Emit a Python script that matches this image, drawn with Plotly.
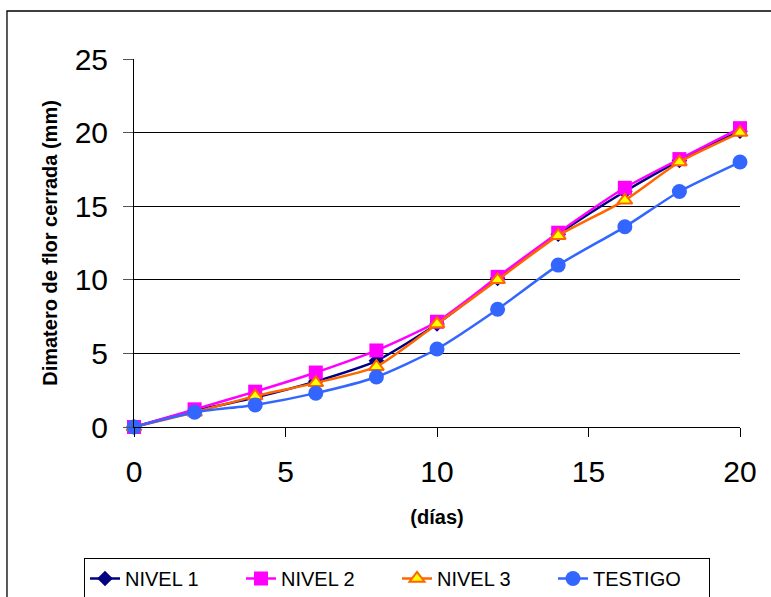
import plotly.graph_objects as go

# Days of measurement
dias = [0, 2, 4, 6, 8, 10, 12, 14, 16.2, 18, 20]

# Closed-flower diameter (mm) per treatment
nivel_1 = [0, 1.1, 2.0, 3.1, 4.5, 7.0, 10.1, 13.1, 16.0, 18.1, 20.1]
nivel_2 = [0, 1.2, 2.4, 3.7, 5.2, 7.15, 10.2, 13.2, 16.25, 18.2, 20.3]
nivel_3 = [0, 1.0, 2.1, 3.0, 4.1, 7.0, 10.0, 13.0, 15.4, 18.0, 20.0]
testigo = [0, 1.0, 1.5, 2.3, 3.4, 5.3, 8.0, 11.0, 13.6, 16.0, 18.0]

y_ticks = [0, 5, 10, 15, 20, 25]
x_ticks = [0, 5, 10, 15, 20]

FONT = "Liberation Sans, Arial, sans-serif"

series = [
    ("NIVEL 1", nivel_1, dict(color="#000080", width=2.5),
     dict(symbol="diamond", size=12, color="#000080")),
    ("NIVEL 2", nivel_2, dict(color="#FF00FF", width=2.5),
     dict(symbol="square", size=14, color="#FF00FF")),
    ("NIVEL 3", nivel_3, dict(color="#FF6600", width=2.5),
     dict(symbol="triangle-up", size=13, color="#FFFF00",
          line=dict(color="#FF6600", width=2))),
    ("TESTIGO", testigo, dict(color="#3366FF", width=2.5),
     dict(symbol="circle", size=15, color="#3366FF")),
]

fig = go.Figure()
for name, vals, line, marker in series:
    fig.add_trace(go.Scatter(
        x=dias, y=vals, name=name, mode="lines+markers",
        line=dict(shape="spline", smoothing=0.6, **line),
        marker=marker, cliponaxis=False,
    ))

fig.update_layout(
    width=771, height=597,
    margin=dict(l=134, r=31, t=59, b=170, autoexpand=False),
    paper_bgcolor="white", plot_bgcolor="white",
    font=dict(family=FONT, color="black"),
    showlegend=True,
    legend=dict(
        orientation="h", xref="paper", x=(84 - 134) / 606, xanchor="left",
        yref="paper", y=(427 - 558) / 368, yanchor="top",
        bordercolor="black", borderwidth=1,
        font=dict(size=20, family=FONT),
        entrywidth=111, tracegroupgap=0, itemwidth=30,
    ),
    shapes=[dict(
        type="rect", xref="paper", yref="paper",
        x0=-0.2096, x1=1.3, y0=-1.0, y1=1.1304,
        line=dict(color="black", width=1.3), layer="below",
    )],
)

fig.update_xaxes(
    range=[0, 20], tickvals=x_ticks, ticks="outside", ticklen=9,
    tickcolor="black", showline=True, linecolor="black", linewidth=1,
    showgrid=False, zeroline=False, automargin=False,
    tickfont=dict(size=30, family=FONT), ticklabelstandoff=9,
    title=dict(text="<b>(días)</b>", font=dict(size=20, family=FONT), standoff=22),
)
fig.update_yaxes(
    range=[0, 25], tickvals=y_ticks, ticks="outside", ticklen=10,
    tickcolor="#555555", showline=True, linecolor="black", linewidth=1,
    showgrid=True, gridcolor="black", gridwidth=1, zeroline=False,
    automargin=False,
    tickfont=dict(size=30, family=FONT), ticklabelstandoff=9,
    title=dict(text="<b>Dimatero de flor cerrada (mm)</b>",
               font=dict(size=20, family=FONT), standoff=11),
)

fig.write_html("out.html")
